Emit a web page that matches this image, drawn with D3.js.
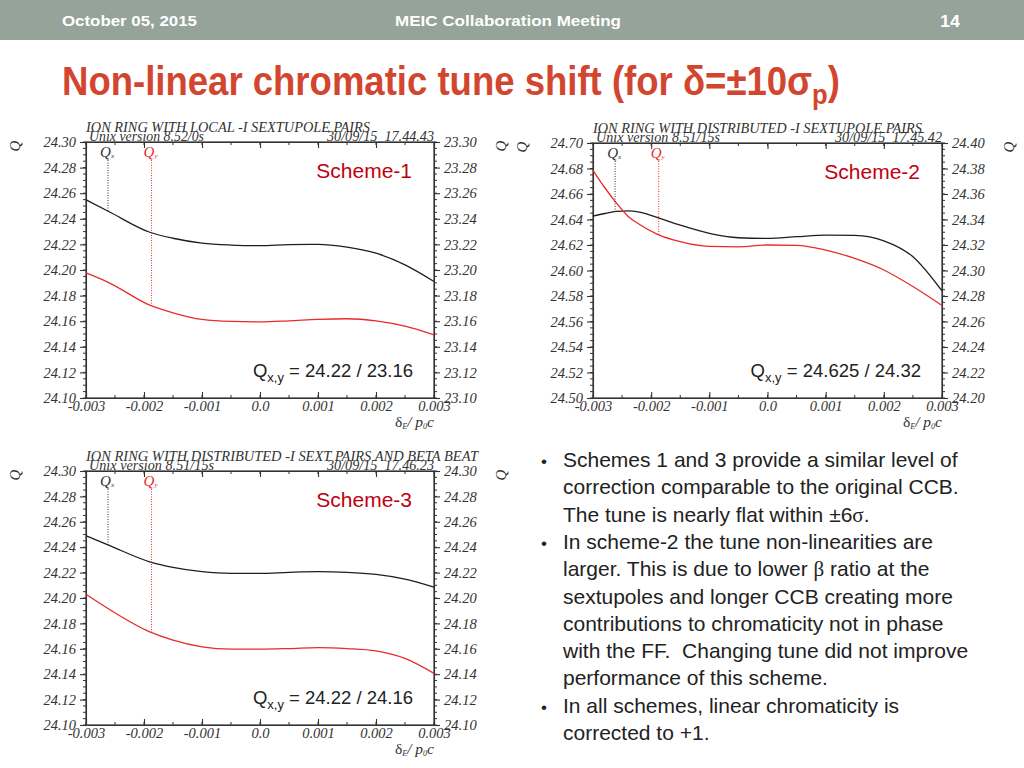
<!DOCTYPE html>
<html><head><meta charset="utf-8">
<script src="https://cdn.jsdelivr.net/npm/d3@7"></script>
<style>body{margin:0;background:#fff}svg{display:block}text{white-space:pre}</style>
</head><body><svg id="c" width="1024" height="768"></svg>
<script>
// ---------------- DATA ----------------
const delta13 = [-0.003,-0.0026,-0.0019,-0.0015,-0.001,-0.0005,0,0.0005,0.001,0.0015,0.002,0.0025,0.003];
const s1Qx = [24.2548,24.2455,24.2295,24.2248,24.2210,24.2195,24.2190,24.2198,24.2200,24.2178,24.2131,24.2040,24.1910];
const s1Qy = [23.1977,23.1900,23.1725,23.1666,23.1614,23.1598,23.1595,23.1603,23.1614,23.1619,23.1603,23.1561,23.1493];

const delta2 = [-0.003,-0.0028,-0.0026,-0.0024,-0.0022,-0.0019,-0.0015,-0.001,-0.0005,0,0.0005,0.001,0.0015,0.002,0.0025,0.003];
const s2Qx = [24.6426,24.6447,24.6463,24.6468,24.6458,24.6416,24.6356,24.6291,24.6257,24.6252,24.6265,24.6278,24.6275,24.6233,24.6108,24.5840];
const s2Qy = [24.3786,24.3651,24.3531,24.3426,24.3361,24.3286,24.3226,24.3189,24.3186,24.3200,24.3197,24.3160,24.3095,24.3004,24.2874,24.2725];

const s3Qx = [24.2490,24.2414,24.2285,24.2241,24.2207,24.2194,24.2194,24.2202,24.2207,24.2202,24.2186,24.2149,24.2086];
const s3Qy = [24.2029,24.1911,24.1733,24.1668,24.1615,24.1597,24.1597,24.1602,24.1610,24.1602,24.1584,24.1524,24.1406];

const xTickValues = [-0.003,-0.002,-0.001,0,0.001,0.002,0.003];
const xTickLabels = ["-0.003","-0.002","-0.001","0.0","0.001","0.002","0.003"];
const ticks1L = [24.10,24.12,24.14,24.16,24.18,24.20,24.22,24.24,24.26,24.28,24.30];
const ticks1R = [23.10,23.12,23.14,23.16,23.18,23.20,23.22,23.24,23.26,23.28,23.30];
const ticks2L = [24.50,24.52,24.54,24.56,24.58,24.60,24.62,24.64,24.66,24.68,24.70];
const ticks2R = [24.20,24.22,24.24,24.26,24.28,24.30,24.32,24.34,24.36,24.38,24.40];
const ticks3L = [24.10,24.12,24.14,24.16,24.18,24.20,24.22,24.24,24.26,24.28,24.30];
const ticks3R = [24.10,24.12,24.14,24.16,24.18,24.20,24.22,24.24,24.26,24.28,24.30];

const markerNames = ["x","y"];
const markerDeltas = [-0.00262,-0.00187];

const plotTitles = ["ION RING WITH LOCAL -I SEXTUPOLE PAIRS","ION RING WITH DISTRIBUTED -I SEXTUPOLE PAIRS","ION RING WITH DISTRIBUTED -I SEXT PAIRS AND BETA BEAT"];
const versions = ["Unix version 8.52/0s","Unix version 8.51/15s","Unix version 8.51/15s"];
const stamps = ["30/09/15  17.44.43","30/09/15  17.45.42","30/09/15  17.46.23"];
const schemeNames = ["Scheme-1","Scheme-2","Scheme-3"];
const tuneTexts = [" = 24.22 / 23.16"," = 24.625 / 24.32"," = 24.22 / 24.16"];

const bulletLines = [
 {b:true, t:"Schemes 1 and 3 provide a similar level of"},
 {b:false,t:"correction comparable to the original CCB."},
 {b:false,t:"The tune is nearly flat within ±6|σ|."},
 {b:true, t:"In scheme-2 the tune non-linearities are"},
 {b:false,t:"larger. This is due to lower |β| ratio at the"},
 {b:false,t:"sextupoles and longer CCB creating more"},
 {b:false,t:"contributions to chromaticity not in phase"},
 {b:false,t:"with the FF.  Changing tune did not improve"},
 {b:false,t:"performance of this scheme."},
 {b:true, t:"In all schemes, linear chromaticity is"},
 {b:false,t:"corrected to +1."}
];

// ---------------- LAYOUT ----------------
const svg = d3.select("#c");
svg.append("rect").attr("width",1024).attr("height",768).attr("fill","#fff");

// header band
svg.append("rect").attr("x",0).attr("y",0).attr("width",1024).attr("height",40).attr("fill","#95a39a");
const hdr = (txt,x,w,size,y)=>svg.append("text").attr("x",x).attr("y",y).attr("fill","#fff")
  .attr("font-family","Liberation Sans, Arial, sans-serif").attr("font-weight","bold").attr("font-size",size)
  .attr("textLength",w).attr("lengthAdjust","spacingAndGlyphs").text(txt);
hdr("October 05, 2015",62,135,15,26);
hdr("MEIC Collaboration Meeting",395,226,15,26);
hdr("14",940,20,17,27);

// slide title
const tg = svg.append("g");
const tt = tg.append("text").attr("x",0).attr("y",0).attr("fill","#d2462f")
  .attr("font-family","Liberation Sans, Arial, sans-serif").attr("font-weight","bold").attr("font-size",40);
tt.append("tspan").text("Non-linear chromatic tune shift (for δ=±10σ");
tt.append("tspan").attr("font-size",28).attr("dy",9).text("p");
tt.append("tspan").attr("dy",-9).text(")");
const tw = tt.node().getBBox().width;
tg.attr("transform",`translate(62,95) scale(${778/tw},1)`);

const serif = "Liberation Serif, Times New Roman, serif";
const ink = "#333";

function panel(cfg){
  const g = svg.append("g");
  const x = d3.scaleLinear().domain([-0.003,0.003]).range([cfg.x0,cfg.x1]);
  const yL = d3.scaleLinear().domain([cfg.tL[0],cfg.tL[cfg.tL.length-1]]).range([cfg.y1,cfg.y0]);
  const yR = d3.scaleLinear().domain([cfg.tR[0],cfg.tR[cfg.tR.length-1]]).range([cfg.y1,cfg.y0]);
  const styleAxis = sel=>{
    sel.selectAll("path,line").attr("stroke",ink).attr("stroke-width",1.1);
    sel.selectAll("text").attr("font-family",serif).attr("font-style","italic").attr("font-size",14.5).attr("fill",ink);
  };
  // minor ticks
  const minorY = d3.range(0,41).map(i=>i/40);
  minorY.forEach(f=>{
    const yy = cfg.y1 - f*(cfg.y1-cfg.y0);
    g.append("line").attr("x1",cfg.x0-3).attr("x2",cfg.x0).attr("y1",yy).attr("y2",yy).attr("stroke",ink).attr("stroke-width",1);
    g.append("line").attr("x1",cfg.x1).attr("x2",cfg.x1+3).attr("y1",yy).attr("y2",yy).attr("stroke",ink).attr("stroke-width",1);
  });
  const minorX = d3.range(-0.003,0.00301,0.0005);
  minorX.forEach(d=>{
    g.append("line").attr("x1",x(d)).attr("x2",x(d)).attr("y1",cfg.y1).attr("y2",cfg.y1-3).attr("stroke",ink);
    g.append("line").attr("x1",x(d)).attr("x2",x(d)).attr("y1",cfg.y0).attr("y2",cfg.y0+3).attr("stroke",ink);
  });
  g.append("g").attr("transform",`translate(${cfg.x0},0)`)
    .call(d3.axisLeft(yL).tickValues(cfg.tL).tickFormat(d3.format(".2f")).tickSize(6).tickPadding(4).tickSizeOuter(0)).call(styleAxis);
  g.append("g").attr("transform",`translate(${cfg.x1},0)`)
    .call(d3.axisRight(yR).tickValues(cfg.tR).tickFormat(d3.format(".2f")).tickSize(6).tickPadding(4).tickSizeOuter(0)).call(styleAxis);
  g.append("g").attr("transform",`translate(0,${cfg.y1})`)
    .call(d3.axisBottom(x).tickValues(xTickValues).tickFormat((d,i)=>xTickLabels[i]).tickSize(-6).tickPadding(3).tickSizeOuter(0)).call(styleAxis);
  g.append("g").attr("transform",`translate(0,${cfg.y0})`)
    .call(d3.axisTop(x).tickValues(xTickValues).tickFormat("").tickSize(-6).tickSizeOuter(0)).call(styleAxis);
  g.append("rect").attr("x",cfg.x0).attr("y",cfg.y0).attr("width",cfg.x1-cfg.x0).attr("height",cfg.y1-cfg.y0)
    .attr("fill","none").attr("stroke",ink).attr("stroke-width",1.2);

  // titles
  const st = (txt,xx,yy,w,size)=>g.append("text").attr("x",xx).attr("y",yy)
    .attr("font-family",serif).attr("font-style","italic").attr("font-size",size).attr("fill",ink)
    .attr("textLength",w).attr("lengthAdjust","spacingAndGlyphs").text(txt);
  st(cfg.title,cfg.x0,cfg.y0-10,cfg.titleW,14);
  st(cfg.version,cfg.x0+3,cfg.y0-1,cfg.versionW,14);
  st(cfg.stamp,cfg.x1-107,cfg.y0-1,107,14);

  // axis labels Q
  [cfg.x0-70, cfg.x1+68].forEach(qx=>{
    g.append("text").attr("transform",`translate(${qx+4},${cfg.y0+4}) rotate(-90)`).attr("text-anchor","middle")
      .attr("font-family",serif).attr("font-style","italic").attr("font-size",15).attr("fill",ink).text("Q");
  });
  const xl = g.append("text").attr("x",cfg.x1).attr("y",cfg.y1+29).attr("text-anchor","end")
    .attr("font-family",serif).attr("font-style","italic").attr("font-size",15.5).attr("fill",ink);
  xl.append("tspan").attr("font-style","normal").text("δ");
  xl.append("tspan").attr("font-size",8).attr("dy",2).text("E");
  xl.append("tspan").attr("dy",-2).text("/ p");
  xl.append("tspan").attr("font-size",8).attr("dy",2).text("0");
  xl.append("tspan").attr("dy",-2).text("c");

  // curves
  const line = ys=>d3.line().x(d=>x(d[0])).y(d=>ys(d[1])).curve(d3.curveMonotoneX);
  const px = cfg.delta.map((d,i)=>[d,cfg.qx[i]]);
  const py = cfg.delta.map((d,i)=>[d,cfg.qy[i]]);
  g.append("path").attr("d",line(yL)(px)).attr("fill","none").attr("stroke","#1e1e1e").attr("stroke-width",1.3);
  g.append("path").attr("d",line(yR)(py)).attr("fill","none").attr("stroke","#e82a2a").attr("stroke-width",1.3);

  // markers
  const interpX = d3.scaleLinear().domain(cfg.delta).range(cfg.qx);
  const interpY = d3.scaleLinear().domain(cfg.delta).range(cfg.qy);
  markerNames.forEach((nm,i)=>{
    const d = markerDeltas[i];
    const col = i===0 ? "#333" : "#e82a2a";
    const yEnd = i===0 ? yL(interpX(d)) : yR(interpY(d));
    g.append("line").attr("x1",x(d)).attr("x2",x(d)).attr("y1",cfg.y0+18).attr("y2",yEnd)
      .attr("stroke",col).attr("stroke-width",1).attr("stroke-dasharray","1,1.5");
    const t = g.append("text").attr("x",x(d)-1).attr("y",cfg.y0+15).attr("text-anchor","middle")
      .attr("font-family",serif).attr("font-style","italic").attr("font-size",15).attr("fill",col);
    t.append("tspan").text("Q");
    t.append("tspan").attr("font-size",7).attr("dy",1).text(nm);
  });

  // scheme labels
  g.append("text").attr("x",cfg.x1-22).attr("y",cfg.y0+36).attr("text-anchor","end")
    .attr("font-family","Liberation Sans, Arial, sans-serif").attr("font-size",21).attr("fill","#c00010").text(cfg.scheme);
  const q = g.append("text").attr("x",cfg.x1-21).attr("y",cfg.y1-21).attr("text-anchor","end")
    .attr("font-family","Liberation Sans, Arial, sans-serif").attr("font-size",18.5).attr("fill","#222");
  q.append("tspan").text("Q");
  q.append("tspan").attr("font-size",13).attr("dy",5).text("x,y");
  q.append("tspan").attr("dy",-5).text(cfg.tune);
}

panel({x0:86,x1:434,y0:142,y1:398,tL:ticks1L,tR:ticks1R,delta:delta13,qx:s1Qx,qy:s1Qy,
  title:plotTitles[0],titleW:284,version:versions[0],versionW:115,stamp:stamps[0],scheme:schemeNames[0],tune:tuneTexts[0]});
panel({x0:593,x1:942,y0:143,y1:398,tL:ticks2L,tR:ticks2R,delta:delta2,qx:s2Qx,qy:s2Qy,
  title:plotTitles[1],titleW:329,version:versions[1],versionW:124,stamp:stamps[1],scheme:schemeNames[1],tune:tuneTexts[1]});
panel({x0:86,x1:434,y0:471,y1:725,tL:ticks3L,tR:ticks3R,delta:delta13,qx:s3Qx,qy:s3Qy,
  title:plotTitles[2],titleW:392,version:versions[2],versionW:125,stamp:stamps[2],scheme:schemeNames[2],tune:tuneTexts[2]});

// bullets
bulletLines.forEach((ln,i)=>{
  const yy = 467 + i*27.3;
  if(ln.b) svg.append("text").attr("x",541).attr("y",yy).attr("font-family","Liberation Sans, Arial, sans-serif")
    .attr("font-size",17).attr("fill","#222").text("•");
  const t = svg.append("text").attr("x",563).attr("y",yy).attr("font-family","Liberation Sans, Arial, sans-serif")
    .attr("font-size",21).attr("fill","#222");
  ln.t.split("|").forEach((part,k)=>{
    const sp = t.append("tspan").text(part);
    if(k%2===1) sp.attr("font-family",serif);
  });
});
</script></body></html>
